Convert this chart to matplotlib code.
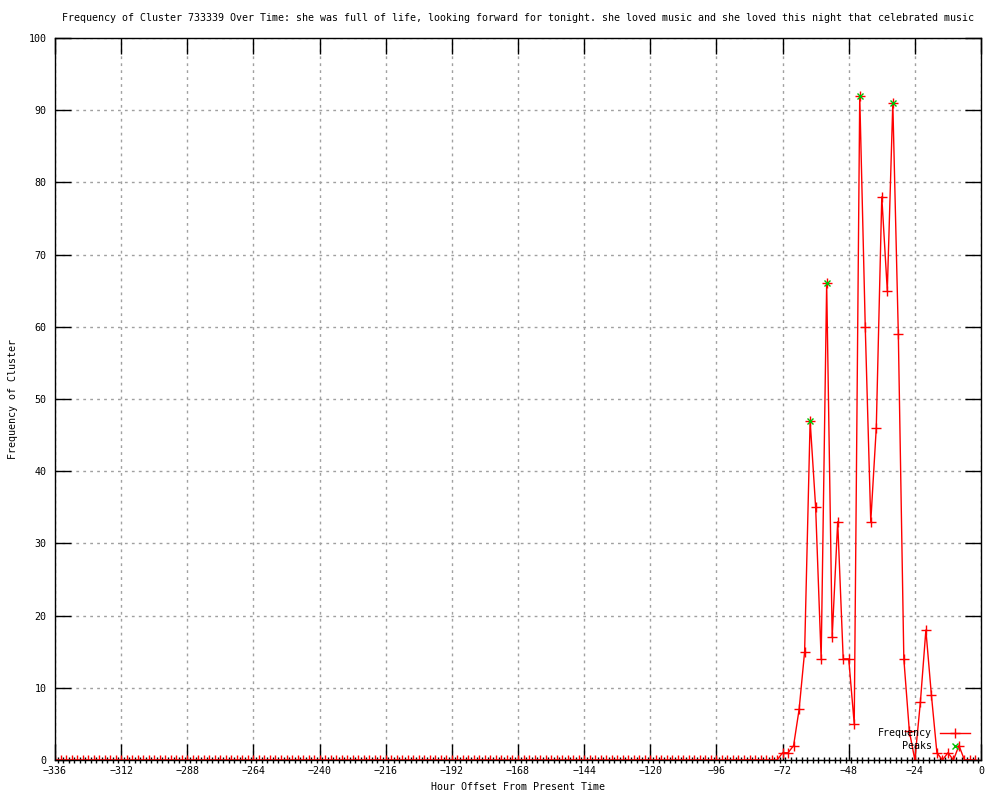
import matplotlib
matplotlib.use("Agg")
import matplotlib.pyplot as plt
from matplotlib.ticker import MultipleLocator

# Cluster frequency, one reading every 2 hours (hour offset from present)
hours = list(range(-336, 0, 2))
freq = [0] * 131 + [0, 1, 1, 2, 7, 15, 47, 35, 14, 66, 17, 33, 14, 14, 5,
                    92, 60, 33, 46, 78, 65, 91, 59, 14, 4, 0, 8, 18, 9, 1,
                    0, 1, 0, 2, 0, 0, 0]

# detected peaks
peak_hours = [-62, -56, -44, -32]
peak_freq = [47, 66, 92, 91]

title = ("Frequency of Cluster 733339 Over Time: she was full of life, looking forward "
         "for tonight. she loved music and she loved this night that celebrated music")

font = "DejaVu Sans Mono"
fs = 7.2

fig = plt.figure(figsize=(10, 8), dpi=100)
ax = fig.add_axes([0.055, 0.05, 0.926, 0.9025])

ax.plot(hours, freq, color="#ff0000", lw=1, marker="+", ms=6.5, mew=1,
        label="Frequency")
ax.plot(peak_hours, peak_freq, ls="none", color="#00c000", marker="x", ms=5,
        mew=1, label="Peaks")

ax.set_xlim(-336, 0)
ax.set_ylim(0, 100)
ax.xaxis.set_major_locator(MultipleLocator(24))
ax.xaxis.set_minor_locator(MultipleLocator(2, offset=1))
ax.yaxis.set_major_locator(MultipleLocator(10))

ax.grid(True, which="major", color="#a0a0a0", ls=(0, (2, 3)), lw=1)
ax.tick_params(which="major", direction="in", length=11.5, width=1,
               top=True, right=True, labelsize=fs)
ax.tick_params(axis="x", which="minor", direction="inout", length=5, width=1,
               top=False)
ax.tick_params(axis="x", which="major", pad=4)
ax.tick_params(axis="y", which="major", pad=6)
for lab in ax.get_xticklabels() + ax.get_yticklabels():
    lab.set_fontfamily(font)
for sp in ax.spines.values():
    sp.set_linewidth(1)

ax.set_title(title, fontsize=fs, family=font, pad=12)
ax.set_xlabel("Hour Offset From Present Time", fontsize=fs, family=font, labelpad=5)
ax.set_ylabel("Frequency of Cluster", fontsize=fs, family=font, labelpad=8)

leg = ax.legend(loc="lower right", bbox_to_anchor=(0.988, 0.012), frameon=False,
                markerfirst=False, prop={"family": font, "size": fs},
                handlelength=3.0, handletextpad=0.8, labelspacing=0.3,
                borderpad=0, borderaxespad=0)

fig.savefig("out.png", dpi=100)
